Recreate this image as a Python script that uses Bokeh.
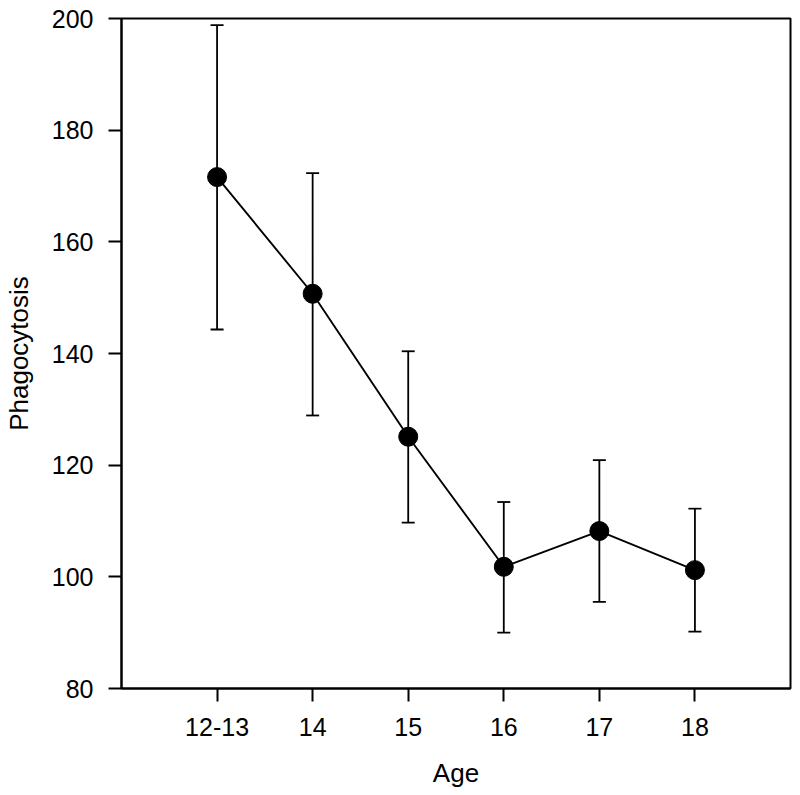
from bokeh.plotting import figure
from bokeh.models import ColumnDataSource, Range1d, FixedTicker, Whisker, TeeHead
from bokeh.embed import file_html
from bokeh.resources import INLINE

# Data
ages = ["12-13", "14", "15", "16", "17", "18"]
phagocytosis = [171.6, 150.7, 125.1, 101.8, 108.2, 101.2]
upper_err = [198.8, 172.3, 140.4, 113.4, 120.9, 112.2]
lower_err = [144.3, 128.9, 109.7, 90.0, 95.5, 90.2]
y_ticks = [80, 100, 120, 140, 160, 180, 200]

xpos = list(range(1, len(ages) + 1))
src = ColumnDataSource(dict(x=xpos, y=phagocytosis, upper=upper_err, lower=lower_err))

FONT = "Liberation Sans"

p = figure(frame_width=669, frame_height=670,
           min_border_left=111, min_border_right=10, min_border_top=18, min_border_bottom=100,
           x_range=Range1d(0, len(ages) + 1), y_range=Range1d(80, 200),
           output_backend="svg", toolbar_location=None)

p.xgrid.visible = False
p.ygrid.visible = False
p.background_fill_color = "white"
p.border_fill_color = "white"
p.outline_line_color = "black"
p.outline_line_width = 2
p.outline_line_alpha = 1

wh = Whisker(base="x", upper="upper", lower="lower", source=src,
             line_color="black", line_width=1.8,
             upper_head=TeeHead(size=13, line_color="black", line_width=1.8),
             lower_head=TeeHead(size=13, line_color="black", line_width=1.8))
p.add_layout(wh)

p.line("x", "y", source=src, line_color="black", line_width=1.9)
p.scatter("x", "y", source=src, size=19, fill_color="black", line_color="black")

p.xaxis.ticker = FixedTicker(ticks=xpos)
p.xaxis.major_label_overrides = {x: a for x, a in zip(xpos, ages)}
p.yaxis.ticker = FixedTicker(ticks=y_ticks)

p.xaxis.axis_label = "Age"
p.yaxis.axis_label = "Phagocytosis"

for ax in (p.xaxis[0], p.yaxis[0]):
    ax.axis_line_color = "black"
    ax.axis_line_width = 2
    ax.major_tick_line_color = "black"
    ax.major_tick_line_width = 2
    ax.major_tick_out = 13
    ax.major_tick_in = 0
    ax.minor_tick_line_color = None
    ax.major_label_text_font = FONT
    ax.major_label_text_font_size = "25px"
    ax.major_label_text_color = "black"
    ax.major_label_standoff = 15
    ax.axis_label_text_font = FONT
    ax.axis_label_text_font_size = "26px"
    ax.axis_label_text_font_style = "normal"
    ax.axis_label_text_color = "black"

p.xaxis.major_label_standoff = 16
p.xaxis.axis_label_standoff = 19
p.yaxis.axis_label_standoff = 15

open("out.html", "w").write(file_html(p, INLINE))
